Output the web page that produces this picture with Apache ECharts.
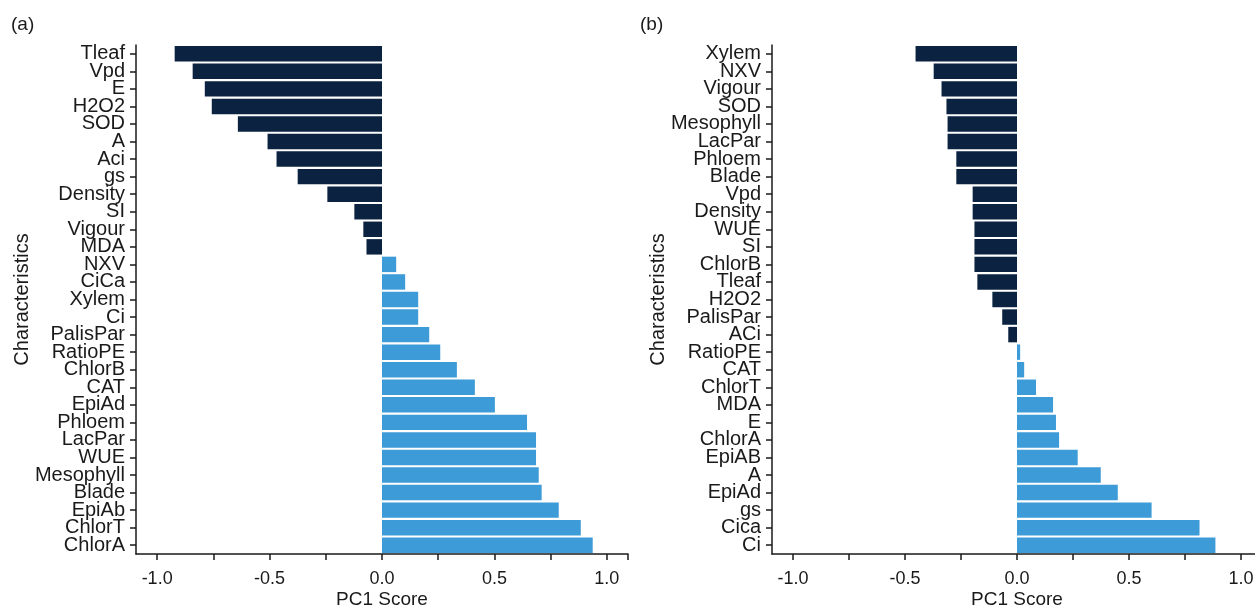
<!DOCTYPE html>
<html>
<head>
<meta charset="utf-8">
<script src="https://cdn.jsdelivr.net/npm/echarts@6/dist/echarts.min.js"></script>
<style>
  html, body { margin: 0; padding: 0; background: #fff; }
  #chart { width: 1255px; height: 606px; }
</style>
</head>
<body>
<div id="chart"></div>
<script>
// panel (a)
const traitsA = ['Tleaf', 'Vpd', 'E', 'H2O2', 'SOD', 'A', 'Aci', 'gs', 'Density', 'SI', 'Vigour', 'MDA',
  'NXV', 'CiCa', 'Xylem', 'Ci', 'PalisPar', 'RatioPE', 'ChlorB', 'CAT', 'EpiAd', 'Phloem', 'LacPar',
  'WUE', 'Mesophyll', 'Blade', 'EpiAb', 'ChlorT', 'ChlorA'];
const scoresA = [-0.922, -0.842, -0.788, -0.757, -0.641, -0.509, -0.469, -0.375, -0.243, -0.123, -0.083, -0.069,
  0.063, 0.103, 0.161, 0.161, 0.210, 0.259, 0.333, 0.413, 0.502, 0.645, 0.685,
  0.685, 0.697, 0.710, 0.786, 0.884, 0.937];

// panel (b)
const traitsB = ['Xylem', 'NXV', 'Vigour', 'SOD', 'Mesophyll', 'LacPar', 'Phloem', 'Blade', 'Vpd', 'Density',
  'WUE', 'SI', 'ChlorB', 'Tleaf', 'H2O2', 'PalisPar', 'ACi', 'RatioPE', 'CAT', 'ChlorT', 'MDA', 'E',
  'ChlorA', 'EpiAB', 'A', 'EpiAd', 'gs', 'Cica', 'Ci'];
const scoresB = [-0.453, -0.372, -0.337, -0.315, -0.310, -0.310, -0.271, -0.271, -0.198, -0.198,
  -0.190, -0.190, -0.190, -0.177, -0.110, -0.066, -0.039, 0.014, 0.032, 0.085, 0.161, 0.174,
  0.188, 0.271, 0.374, 0.450, 0.601, 0.815, 0.886];

const tickValues = [-1, -0.75, -0.5, -0.25, 0, 0.25, 0.5, 0.75, 1];
const labelValues = [-1, -0.5, 0, 0.5, 1];
const xLimit = 1.094;

const NEG = '#0b2341';
const POS = '#3d9bd8';
const INK = '#1a1a1a';
const FONT = 'Liberation Sans';

function xAxisCfg(gridIndex) {
  return {
    type: 'value',
    gridIndex: gridIndex,
    min: -xLimit,
    max: xLimit,
    name: 'PC1 Score',
    nameLocation: 'middle',
    nameGap: 36,
    nameMoveOverlap: false,
    nameTextStyle: { fontFamily: FONT, fontSize: 19, color: INK },
    splitLine: { show: false },
    axisLine: { show: true, lineStyle: { color: INK, width: 1.5 } },
    axisTick: { show: true, length: 6, lineStyle: { color: INK, width: 1.5 },
      customValues: tickValues.concat([xLimit]) },
    axisLabel: { fontFamily: FONT, fontSize: 18, color: INK, margin: 16,
      customValues: labelValues,
      formatter: v => v.toFixed(1) }
  };
}

function yAxisCfg(gridIndex, cats) {
  return {
    type: 'category',
    gridIndex: gridIndex,
    data: cats,
    inverse: true,
    name: 'Characteristics',
    nameLocation: 'middle',
    nameRotate: 90,
    nameGap: 104,
    nameMoveOverlap: false,
    nameTextStyle: { fontFamily: FONT, fontSize: 20, color: INK },
    axisLine: { show: true, onZero: false, lineStyle: { color: INK, width: 1.5 } },
    axisTick: { show: true, alignWithLabel: true, length: 6, lineStyle: { color: INK, width: 1.5 } },
    axisLabel: { fontFamily: FONT, fontSize: 20, color: INK, margin: 11, interval: 0 }
  };
}

function barColor(p) {
  return p.value < 0 ? NEG : POS;
}

const chart = echarts.init(document.getElementById('chart'));
chart.setOption({
  animation: false,
  backgroundColor: '#fff',
  title: [
    { text: '(a)', left: 6, top: 10, textStyle: { fontFamily: FONT, fontSize: 19, fontWeight: 'normal', color: INK } },
    { text: '(b)', left: 635, top: 10, textStyle: { fontFamily: FONT, fontSize: 19, fontWeight: 'normal', color: INK } }
  ],
  grid: [
    { left: 136, right: 627, top: 45, bottom: 52, outerBoundsMode: 'none' },
    { left: 772, right: -7, top: 45, bottom: 52, outerBoundsMode: 'none' }
  ],
  xAxis: [xAxisCfg(0), xAxisCfg(1)],
  yAxis: [yAxisCfg(0, traitsA), yAxisCfg(1, traitsB)],
  series: [
    {
      type: 'bar', xAxisIndex: 0, yAxisIndex: 0,
      data: scoresA,
      barCategoryGap: '12%',
      itemStyle: { color: barColor }
    },
    {
      type: 'bar', xAxisIndex: 1, yAxisIndex: 1,
      data: scoresB,
      barCategoryGap: '12%',
      itemStyle: { color: barColor }
    }
  ]
});
</script>
</body>
</html>
